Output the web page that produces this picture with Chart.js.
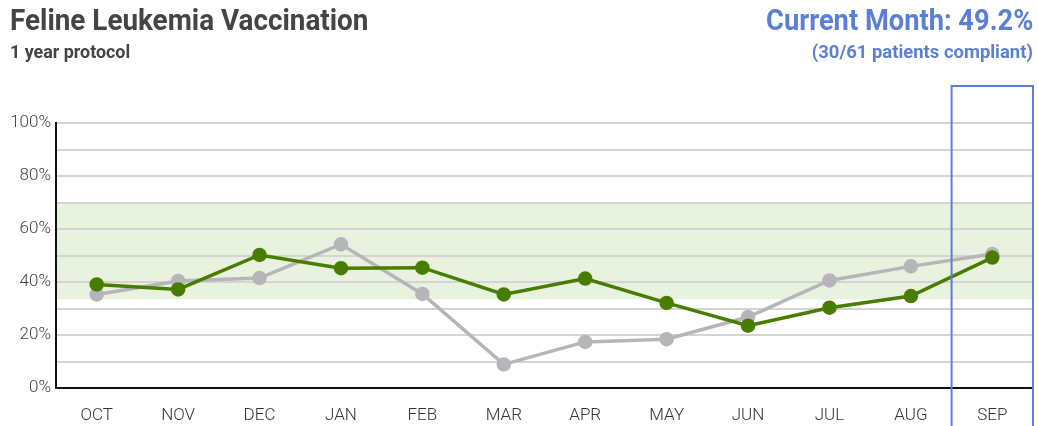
<!DOCTYPE html>
<html>
<head>
<meta charset="utf-8">
<script src="https://cdn.jsdelivr.net/npm/chart.js@4.4.0/dist/chart.umd.min.js"></script>
<style>
  html, body { margin: 0; padding: 0; background: #fff; }
  #wrap { position: relative; width: 1038px; height: 426px; overflow: hidden; }
  canvas { position: absolute; left: 0; top: 0; }
  .hdr { position: absolute; font-family: "Roboto", sans-serif; font-weight: bold; white-space: nowrap; }
  #title { left: 10px; top: 3px; font-size: 29px; color: #444; transform: scaleX(0.96); transform-origin: left top; }
  #sub { left: 10px; top: 40px; font-size: 19px; color: #444; transform: scaleX(0.94); transform-origin: left top; }
  #cur { right: 5px; top: 3px; font-size: 29px; color: #5b7fd6; transform: scaleX(0.94); transform-origin: right top; }
  #cnt { right: 5px; top: 40px; font-size: 19px; color: #5b7fd6; transform: scaleX(0.97); transform-origin: right top; }
</style>
</head>
<body>
<div id="wrap">
  <canvas id="myChart" width="1042" height="426"></canvas>
  <div class="hdr" id="title">Feline Leukemia Vaccination</div>
  <div class="hdr" id="sub">1 year protocol</div>
  <div class="hdr" id="cur">Current Month: 49.2%</div>
  <div class="hdr" id="cnt">(30/61 patients compliant)</div>
</div>
<script>
const months = ['OCT', 'NOV', 'DEC', 'JAN', 'FEB', 'MAR', 'APR', 'MAY', 'JUN', 'JUL', 'AUG', 'SEP'];
const clinic = [39.1, 37.2, 50.2, 45.2, 45.4, 35.3, 41.3, 32.1, 23.5, 30.3, 34.7, 49.2];
const benchmark = [35.3, 40.4, 41.5, 54.2, 35.5, 8.9, 17.4, 18.4, 26.8, 40.6, 45.9, 50.6];
const targetBand = [33.5, 70];
const currentIndex = 11;

// green target band behind the grid, box round the current month on top
const bandPlugin = {
  id: 'band',
  beforeDraw(chart) {
    const { ctx, chartArea, scales } = chart;
    const y1 = scales.y.getPixelForValue(targetBand[1]);
    const y0 = scales.y.getPixelForValue(targetBand[0]);
    ctx.save();
    ctx.fillStyle = '#e9f2de';
    ctx.fillRect(chartArea.left, y1, chartArea.right - chartArea.left, y0 - y1);
    ctx.restore();
  },
  afterDraw(chart) {
    const { ctx, scales } = chart;
    const x = scales.x;
    const half = (x.getPixelForValue(1) - x.getPixelForValue(0)) / 2;
    const cx = x.getPixelForValue(currentIndex);
    ctx.save();
    ctx.strokeStyle = '#5b7fd6';
    ctx.lineWidth = 2;
    ctx.strokeRect(cx - half, 86, half * 2, 360);
    ctx.restore();
  }
};

new Chart(document.getElementById('myChart'), {
  type: 'line',
  data: {
    labels: months,
    datasets: [
      {
        label: 'Clinic',
        data: clinic,
        borderColor: '#487d00',
        backgroundColor: '#487d00',
        borderWidth: 3.5,
        pointRadius: 5.5,
        pointHoverRadius: 5.5,
        tension: 0
      },
      {
        label: 'Benchmark',
        data: benchmark,
        borderColor: '#b5b5ba',
        backgroundColor: '#b5b5ba',
        borderWidth: 3.5,
        pointRadius: 5.5,
        pointHoverRadius: 5.5,
        tension: 0
      }
    ]
  },
  options: {
    responsive: false,
    animation: false,
    layout: { padding: { left: 0, right: 0, top: 123, bottom: 0 } },
    plugins: { legend: { display: false }, tooltip: { enabled: false } },
    scales: {
      x: {
        offset: true,
        grid: { display: false },
        border: { color: '#111', width: 2 },
        ticks: { color: '#333', font: { family: 'Roboto', size: 17, weight: '300' }, padding: 10 },
        afterFit(s) { s.height = 38; }
      },
      y: {
        min: 0,
        max: 100,
        ticks: {
          stepSize: 10,
          color: '#444',
          font: { family: 'Roboto', size: 17, weight: '300' },
          padding: 5,
          callback: v => (v % 20 === 0 ? v + '%' : '')
        },
        grid: { color: '#d4d4d4', lineWidth: 2, drawTicks: false },
        border: { color: '#111', width: 2 },
        afterFit(s) { s.width = 56; }
      }
    }
  },
  plugins: [bandPlugin]
});
</script>
</body>
</html>
